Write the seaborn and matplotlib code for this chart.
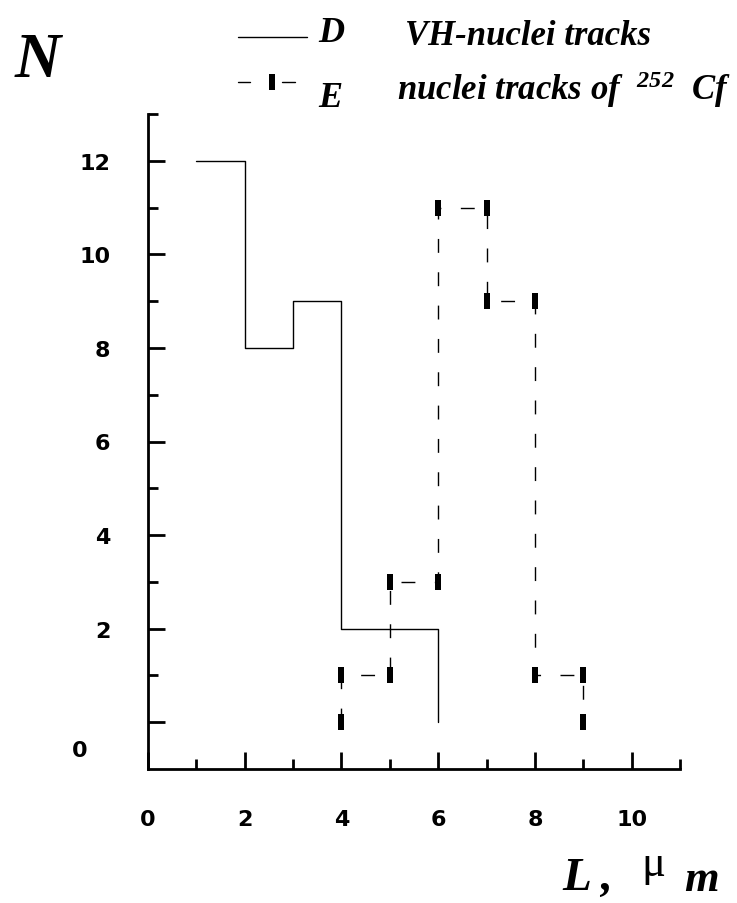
import numpy as np
import matplotlib
matplotlib.use("Agg")
import matplotlib.pyplot as plt
from matplotlib.lines import Line2D
import seaborn as sns

# bins of track length L (micrometres) and counts N
d_edges = [1, 2, 3, 4, 5, 6]
d_counts = [12, 8, 9, 2, 2]      # D: VH-nuclei tracks
e_edges = [4, 5, 6, 7, 8, 9]
e_counts = [1, 3, 11, 9, 1]      # E: nuclei tracks of 252Cf

x_ticks = [0, 2, 4, 6, 8, 10]
y_ticks = [0, 2, 4, 6, 8, 10, 12]
y_labels = ["", "2", "4", "6", "8", "10", "12"]

sns.set_style("ticks", {"axes.edgecolor": "black", "text.color": "black",
                        "xtick.color": "black", "ytick.color": "black"})
plt.rcParams["font.family"] = ["DejaVu Sans"]
plt.rcParams["mathtext.fontset"] = "custom"
plt.rcParams["mathtext.rm"] = "Liberation Serif:bold:italic"
plt.rcParams["mathtext.it"] = "Liberation Serif:bold:italic"

W, H = 737, 904
fig = plt.figure(figsize=(W / 100, H / 100), dpi=100)
ax = fig.add_axes([148 / W, 134 / H, 532 / W, 655 / H])

# D: solid step outline
d_x = np.array(d_edges)
d_y = np.append(d_counts, 0)
sns.lineplot(x=d_x, y=d_y, drawstyle="steps-post", estimator=None, sort=False,
             color="black", lw=1, ax=ax)

# E: dashed outline with a small bar marker at every corner
e_x = np.repeat(e_edges, 2)
e_y = np.concatenate([[0], np.repeat(e_counts, 2), [0]])
bar = [(-0.4, -1), (0.4, -1), (0.4, 1), (-0.4, 1), (-0.4, -1)]
sns.lineplot(x=e_x, y=e_y, estimator=None, sort=False, color="black", lw=1,
             linestyle=(0, (10, 14)), marker=bar, markersize=12,
             markeredgewidth=0, markeredgecolor="black", markerfacecolor="black", ax=ax)

ax.set_xlim(0, 11)
ax.set_ylim(-1, 13)
for s in ["top", "right"]:
    ax.spines[s].set_visible(False)
ax.spines["left"].set_linewidth(2)
ax.spines["bottom"].set_linewidth(2)

ax.set_xticks(x_ticks)
ax.set_xticks(range(1, 12, 2), minor=True)
ax.set_yticks(y_ticks)
ax.set_yticklabels(y_labels)
ax.set_yticks(list(range(1, 12, 2)) + [13], minor=True)
ax.tick_params(which="major", direction="in", width=2, length=12, labelsize=16)
ax.tick_params(which="minor", direction="in", width=2, length=7)
ax.tick_params(axis="x", which="major", pad=29)
ax.tick_params(axis="y", which="major", pad=27)
for lbl in ax.get_xticklabels() + ax.get_yticklabels():
    lbl.set_fontweight("bold")
# zero of N is written lower, next to the axis corner
ax.text(-0.128, -0.6, "0", transform=ax.get_yaxis_transform(), ha="center", va="center",
        fontsize=16, fontweight="bold")

# axis titles
serif_bi = dict(family="Liberation Serif", fontweight="bold", style="italic")
fig.text(38 / W, 1 - 62 / H, "N", fontsize=46, ha="center", va="center", **serif_bi)
fig.text(562 / W, 1 - 890 / H, "L ,", fontsize=34, ha="left", va="baseline", **serif_bi)
fig.text(641 / W, 1 - 876 / H, "\u03bc", fontsize=32, ha="left", va="baseline",
         family="Liberation Serif")
fig.text(684 / W, 1 - 891 / H, "m", fontsize=32, ha="left", va="baseline", **serif_bi)

# hand-made key at the top
fig.add_artist(Line2D([238 / W, 307 / W], [1 - 38 / H] * 2, color="black", lw=1))
fig.add_artist(Line2D([238 / W, 250 / W], [1 - 83 / H] * 2, color="black", lw=1))
fig.add_artist(Line2D([282 / W, 295 / W], [1 - 83 / H] * 2, color="black", lw=1))
fig.add_artist(Line2D([272 / W], [1 - 83 / H], marker=bar, markersize=12, color="black",
                      markeredgewidth=0, linestyle="none"))
fig.text(318 / W, 1 - 42 / H, "D", fontsize=26, va="baseline", **serif_bi)
fig.text(318 / W, 1 - 107 / H, "E", fontsize=26, va="baseline", **serif_bi)
fig.text(405 / W, 1 - 45 / H, "VH-nuclei tracks", fontsize=25, va="baseline", **serif_bi)
fig.text(397 / W, 1 - 100 / H, r"nuclei tracks of  $^{252}$  Cf", fontsize=25,
         va="baseline", **serif_bi)

fig.savefig("out.png", dpi=100)
